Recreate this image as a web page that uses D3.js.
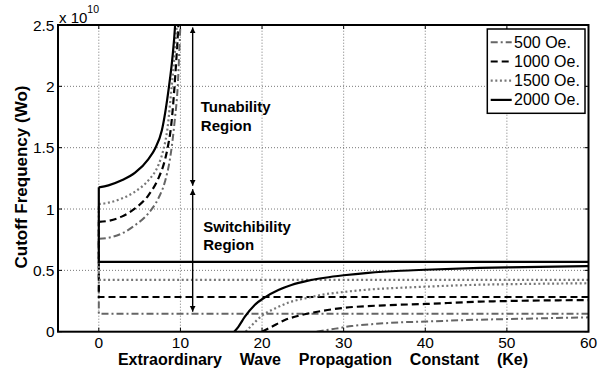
<!DOCTYPE html>
<html><head><meta charset="utf-8">
<script src="https://cdn.jsdelivr.net/npm/d3@7"></script>
<style>
body{margin:0;background:#fff}
svg{display:block}
text{font-family:"Liberation Sans",Arial,Helvetica,sans-serif;fill:#000}
</style>
</head><body>
<svg id="chart" width="606" height="373"></svg>
<script>
// ---------- data ----------
const fieldLabels = ["500 Oe.", "1000 Oe.", "1500 Oe.", "2000 Oe."];
// horizontal (cyclotron) level of each field, x 1e10
const cyclotronLevel = [0.146, 0.283, 0.423, 0.569];
// upper branch [Ke, Wo]
const upper500  = [[0,0.757],[1.2,0.766],[2.8,0.800],[4.4,0.866],[6.1,0.967],[7.3,1.087],[8.1,1.222],[8.7,1.400],[9.0,1.540],[9.3,1.720],[9.67,2.0],[10.0,2.5]];
const upper1000 = [[0,0.895],[1.2,0.904],[2.8,0.938],[4.4,1.003],[6.1,1.114],[7.3,1.250],[8.1,1.400],[8.5,1.522],[8.85,1.670],[9.2,1.930],[9.5,2.22],[9.75,2.5]];
const upper1500 = [[0,1.040],[1.2,1.052],[2.8,1.085],[4.4,1.140],[6.1,1.236],[7.3,1.358],[7.9,1.480],[8.4,1.650],[8.93,2.0],[9.25,2.22],[9.55,2.5]];
const upper2000 = [[0,1.177],[1.18,1.193],[2.81,1.234],[4.45,1.296],[6.08,1.407],[6.9,1.494],[7.72,1.640],[8.6,2.0],[9.0,2.22],[9.35,2.5]];
// lower branch [Ke, Wo]
const lower500  = [[26.7,0],[29,0.025],[31,0.046],[34,0.064],[36.9,0.076],[40,0.083],[46.7,0.098],[50,0.103],[60,0.117]];
const lower1000 = [[20.0,0],[21.2,0.041],[22.8,0.095],[24.85,0.136],[27.3,0.169],[30,0.194],[35,0.215],[40,0.226],[46.7,0.245],[50,0.250],[60,0.258]];
const lower1500 = [[18.0,0],[18.7,0.049],[19.95,0.128],[21.6,0.190],[23.6,0.245],[25.65,0.277],[27.7,0.305],[30,0.324],[33,0.343],[36.9,0.358],[40,0.367],[46.7,0.383],[50,0.387],[60,0.395]];
const lower2000 = [[16.6,0],[17.1,0.040],[17.9,0.122],[19.1,0.218],[20.35,0.280],[22.0,0.340],[23.6,0.381],[25.65,0.416],[27.7,0.440],[30,0.460],[33,0.480],[37,0.497],[40,0.505],[46.7,0.520],[50,0.525],[60,0.535]];
const upperBranches = [upper500, upper1000, upper1500, upper2000];
const lowerBranches = [lower500, lower1000, lower1500, lower2000];
const xTicks = [0, 10, 20, 30, 40, 50, 60];
const yTicks = [0, 0.5, 1, 1.5, 2, 2.5];
const yTickLabels = ["0", "0.5", "1", "1.5", "2", "2.5"];
const xDomain = [-5, 60];
const yDomain = [0, 2.5];
// annotation arrows [Ke, from, to]
const arrowKe = 11.5;
const tunabilityArrow = [2.48, 1.19];
const switchArrow = [1.162, 0.163];

// ---------- styles ----------
const seriesStyle = [
  {color:"#666666", dash:"7,3,2,3", width:2},
  {color:"#000000", dash:"7,4", width:2.2},
  {color:"#777777", dash:"2,2.6", width:2.2},
  {color:"#000000", dash:null, width:2.2}
];

const svg = d3.select("#chart");
const L = 58, R = 588.5, T = 25, B = 331.7;
const x = d3.scaleLinear().domain(xDomain).range([L, R]);
const y = d3.scaleLinear().domain(yDomain).range([B, T]);

// grid
const grid = svg.append("g").attr("stroke", "#555").attr("stroke-width", 0.8).attr("stroke-dasharray", "1,2");
grid.selectAll("line.gx").data(xTicks.filter(d => d > xDomain[0] && d < xDomain[1]))
  .join("line").attr("x1", d => x(d)).attr("x2", d => x(d)).attr("y1", B).attr("y2", T);
grid.selectAll("line.gy").data(yTicks.filter(d => d > yDomain[0] && d < yDomain[1]))
  .join("line").attr("class","gy").attr("x1", L).attr("x2", R).attr("y1", d => y(d)).attr("y2", d => y(d));

// clip
svg.append("clipPath").attr("id", "plotclip").append("rect")
  .attr("x", L).attr("y", T).attr("width", R - L).attr("height", B - T);

const plot = svg.append("g").attr("clip-path", "url(#plotclip)");
const curveLine = d3.line().x(d => x(d[0])).y(d => y(d[1])).curve(d3.curveMonotoneX);
const straight = d3.line().x(d => x(d[0])).y(d => y(d[1]));

fieldLabels.forEach((lab, i) => {
  const st = seriesStyle[i];
  const g = plot.append("g").attr("fill", "none").attr("stroke", st.color)
    .attr("stroke-width", st.width).attr("stroke-dasharray", st.dash);
  // horizontal level + vertical step at Ke = 0
  g.append("path").attr("d", straight([[xDomain[1], cyclotronLevel[i]], [0, cyclotronLevel[i]], [0, upperBranches[i][0][1]]]));
  const up = upperBranches[i];
  g.append("path").attr("d", curveLine(up.concat([[up[up.length-1][0] + 0.15, 2.7]])));
  g.append("path").attr("d", curveLine(lowerBranches[i]));
});

// arrows
const defs = svg.append("defs");
defs.append("marker").attr("id", "ah").attr("viewBox", "0 0 10 10").attr("refX", 10).attr("refY", 5)
  .attr("markerWidth", 6).attr("markerHeight", 8).attr("markerUnits", "userSpaceOnUse")
  .attr("orient", "auto-start-reverse")
  .append("path").attr("d", "M0,0 L10,5 L0,10 Z").attr("fill", "#000");
[tunabilityArrow, switchArrow].forEach(a => {
  svg.append("line").attr("x1", x(arrowKe)).attr("x2", x(arrowKe))
    .attr("y1", y(a[0])).attr("y2", y(a[1]))
    .attr("stroke", "#000").attr("stroke-width", 1.4)
    .attr("marker-start", "url(#ah)").attr("marker-end", "url(#ah)");
});

// annotation text
const ann = [
  {t:"Tunability", k:12.5, w:1.793},
  {t:"Region", k:12.5, w:1.638},
  {t:"Switchibility", k:12.8, w:0.815},
  {t:"Region", k:12.8, w:0.666}
];
svg.selectAll("text.ann").data(ann).join("text").attr("class", "ann")
  .attr("x", d => x(d.k)).attr("y", d => y(d.w))
  .attr("font-size", "15px").attr("font-weight", "bold").text(d => d.t);

// axes box
svg.append("rect").attr("x", L).attr("y", T).attr("width", R - L).attr("height", B - T)
  .attr("fill", "none").attr("stroke", "#000").attr("stroke-width", 2);

// inward ticks
const tk = svg.append("g").attr("stroke", "#000").attr("stroke-width", 1);
xTicks.forEach(d => {
  tk.append("line").attr("x1", x(d)).attr("x2", x(d)).attr("y1", B).attr("y2", B - 4);
  tk.append("line").attr("x1", x(d)).attr("x2", x(d)).attr("y1", T).attr("y2", T + 4);
});
yTicks.forEach(d => {
  tk.append("line").attr("x1", L).attr("x2", L + 4).attr("y1", y(d)).attr("y2", y(d));
  tk.append("line").attr("x1", R).attr("x2", R - 4).attr("y1", y(d)).attr("y2", y(d));
});

// tick labels
svg.selectAll("text.xt").data(xTicks).join("text").attr("class", "xt")
  .attr("x", d => x(d)).attr("y", B + 16.5).attr("text-anchor", "middle")
  .attr("font-size", "15.5px").text(d => d);
svg.selectAll("text.yt").data(yTicks).join("text").attr("class", "yt")
  .attr("x", L - 3.5).attr("y", d => y(d) + 5.5).attr("text-anchor", "end")
  .attr("font-size", "15.5px").text((d, i) => yTickLabels[i]);

// exponent
const ex = svg.append("text").attr("x", L + 1).attr("y", 23).attr("font-size", "15px");
ex.append("tspan").text("x 10");
ex.append("tspan").attr("dy", -10).attr("font-size", "10.5px").text("10");

// axis labels
svg.append("text").attr("x", 323).attr("y", 365).attr("text-anchor", "middle")
  .attr("font-size", "16px").attr("font-weight", "bold").attr("xml:space", "preserve")
  .style("white-space", "pre")
  .text("Extraordinary    Wave    Propagation    Constant    (Ke)");
svg.append("text").attr("transform", "translate(27,177) rotate(-90)").attr("text-anchor", "middle")
  .attr("font-size", "17px").attr("font-weight", "bold").text("Cutoff Frequency (Wo)");

// legend
const lg = svg.append("g");
lg.append("rect").attr("x", 487.3).attr("y", 29).attr("width", 97.7).attr("height", 84.3)
  .attr("fill", "#fff").attr("stroke", "#000").attr("stroke-width", 1.5);
fieldLabels.forEach((lab, i) => {
  const cy = 42.3 + i * 19.2;
  const st = seriesStyle[i];
  lg.append("line").attr("x1", 490.7).attr("x2", 511.7).attr("y1", cy).attr("y2", cy)
    .attr("stroke", st.color).attr("stroke-width", st.width).attr("stroke-dasharray", st.dash);
  lg.append("text").attr("x", 514).attr("y", cy + 5.5).attr("font-size", "16px").text(lab);
});
</script>
</body></html>
